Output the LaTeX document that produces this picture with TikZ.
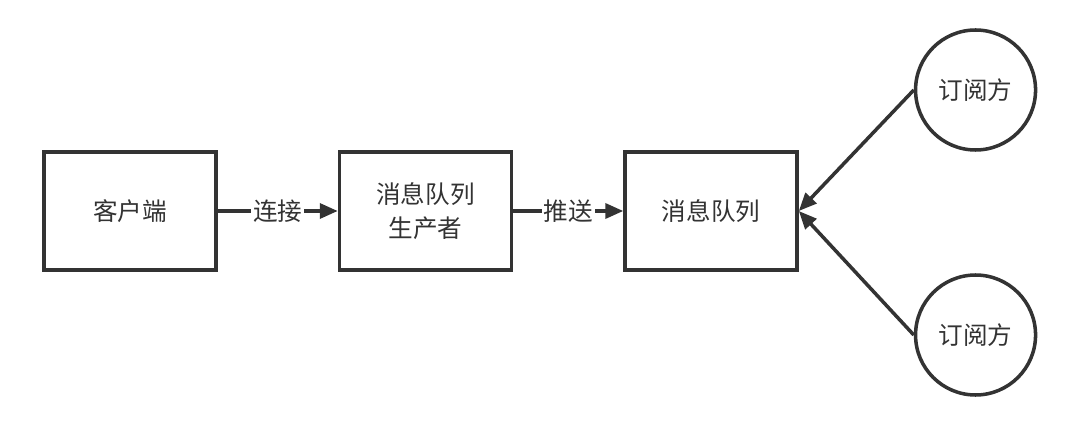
\documentclass[tikz,border=0pt]{standalone}
\usepackage{fontspec}
\setmainfont{Noto Sans CJK SC}
\usepackage{xcolor}
\usetikzlibrary{arrows.meta, positioning, shapes.geometric}
\definecolor{ink}{HTML}{333333}

\begin{document}
\begin{tikzpicture}[node distance=2.3cm,
        box/.style={draw=ink, line width=2pt, rectangle, minimum width=3.44cm, minimum height=2.36cm, align=center, text=ink, font=\fontsize{14}{19}\selectfont},
        subscriber/.style={draw=ink, line width=2pt, circle, minimum size=2.4cm, text=ink, font=\fontsize{14}{19}\selectfont},
        link/.style={-{Triangle[length=0.36cm, width=0.3cm]}, draw=ink, line width=2pt},
        tag/.style={fill=white, text=ink, inner sep=1pt, font=\fontsize{14}{19}\selectfont}]
        \useasboundingbox (0,0) rectangle (21.6,8.6);

        % Client
        \node[box] (client) at (2.6,4.38) {客户端};

        % Producer
        \node[box, right=2.4cm of client] (producer) {消息队列\\生产者};

        % Queue
        \node[box, right=2.2cm of producer] (queue) {消息队列};

        % Subscribers
        \node[subscriber, right=2.3cm of queue.east, anchor=west, yshift=2.42cm] (subA) {订阅方};
        \node[subscriber, right=2.3cm of queue.east, anchor=west, yshift=-2.48cm] (subB) {订阅方};

        % Relationships
        \draw[link] (client) -- node[tag] {连接} (producer);
        \draw[link] (producer) -- node[tag] {推送} (queue);
        \draw[link] (subA.west) -- (queue.east);
        \draw[link] (subB.west) -- (queue.east);
    \end{tikzpicture}
\end{document}
